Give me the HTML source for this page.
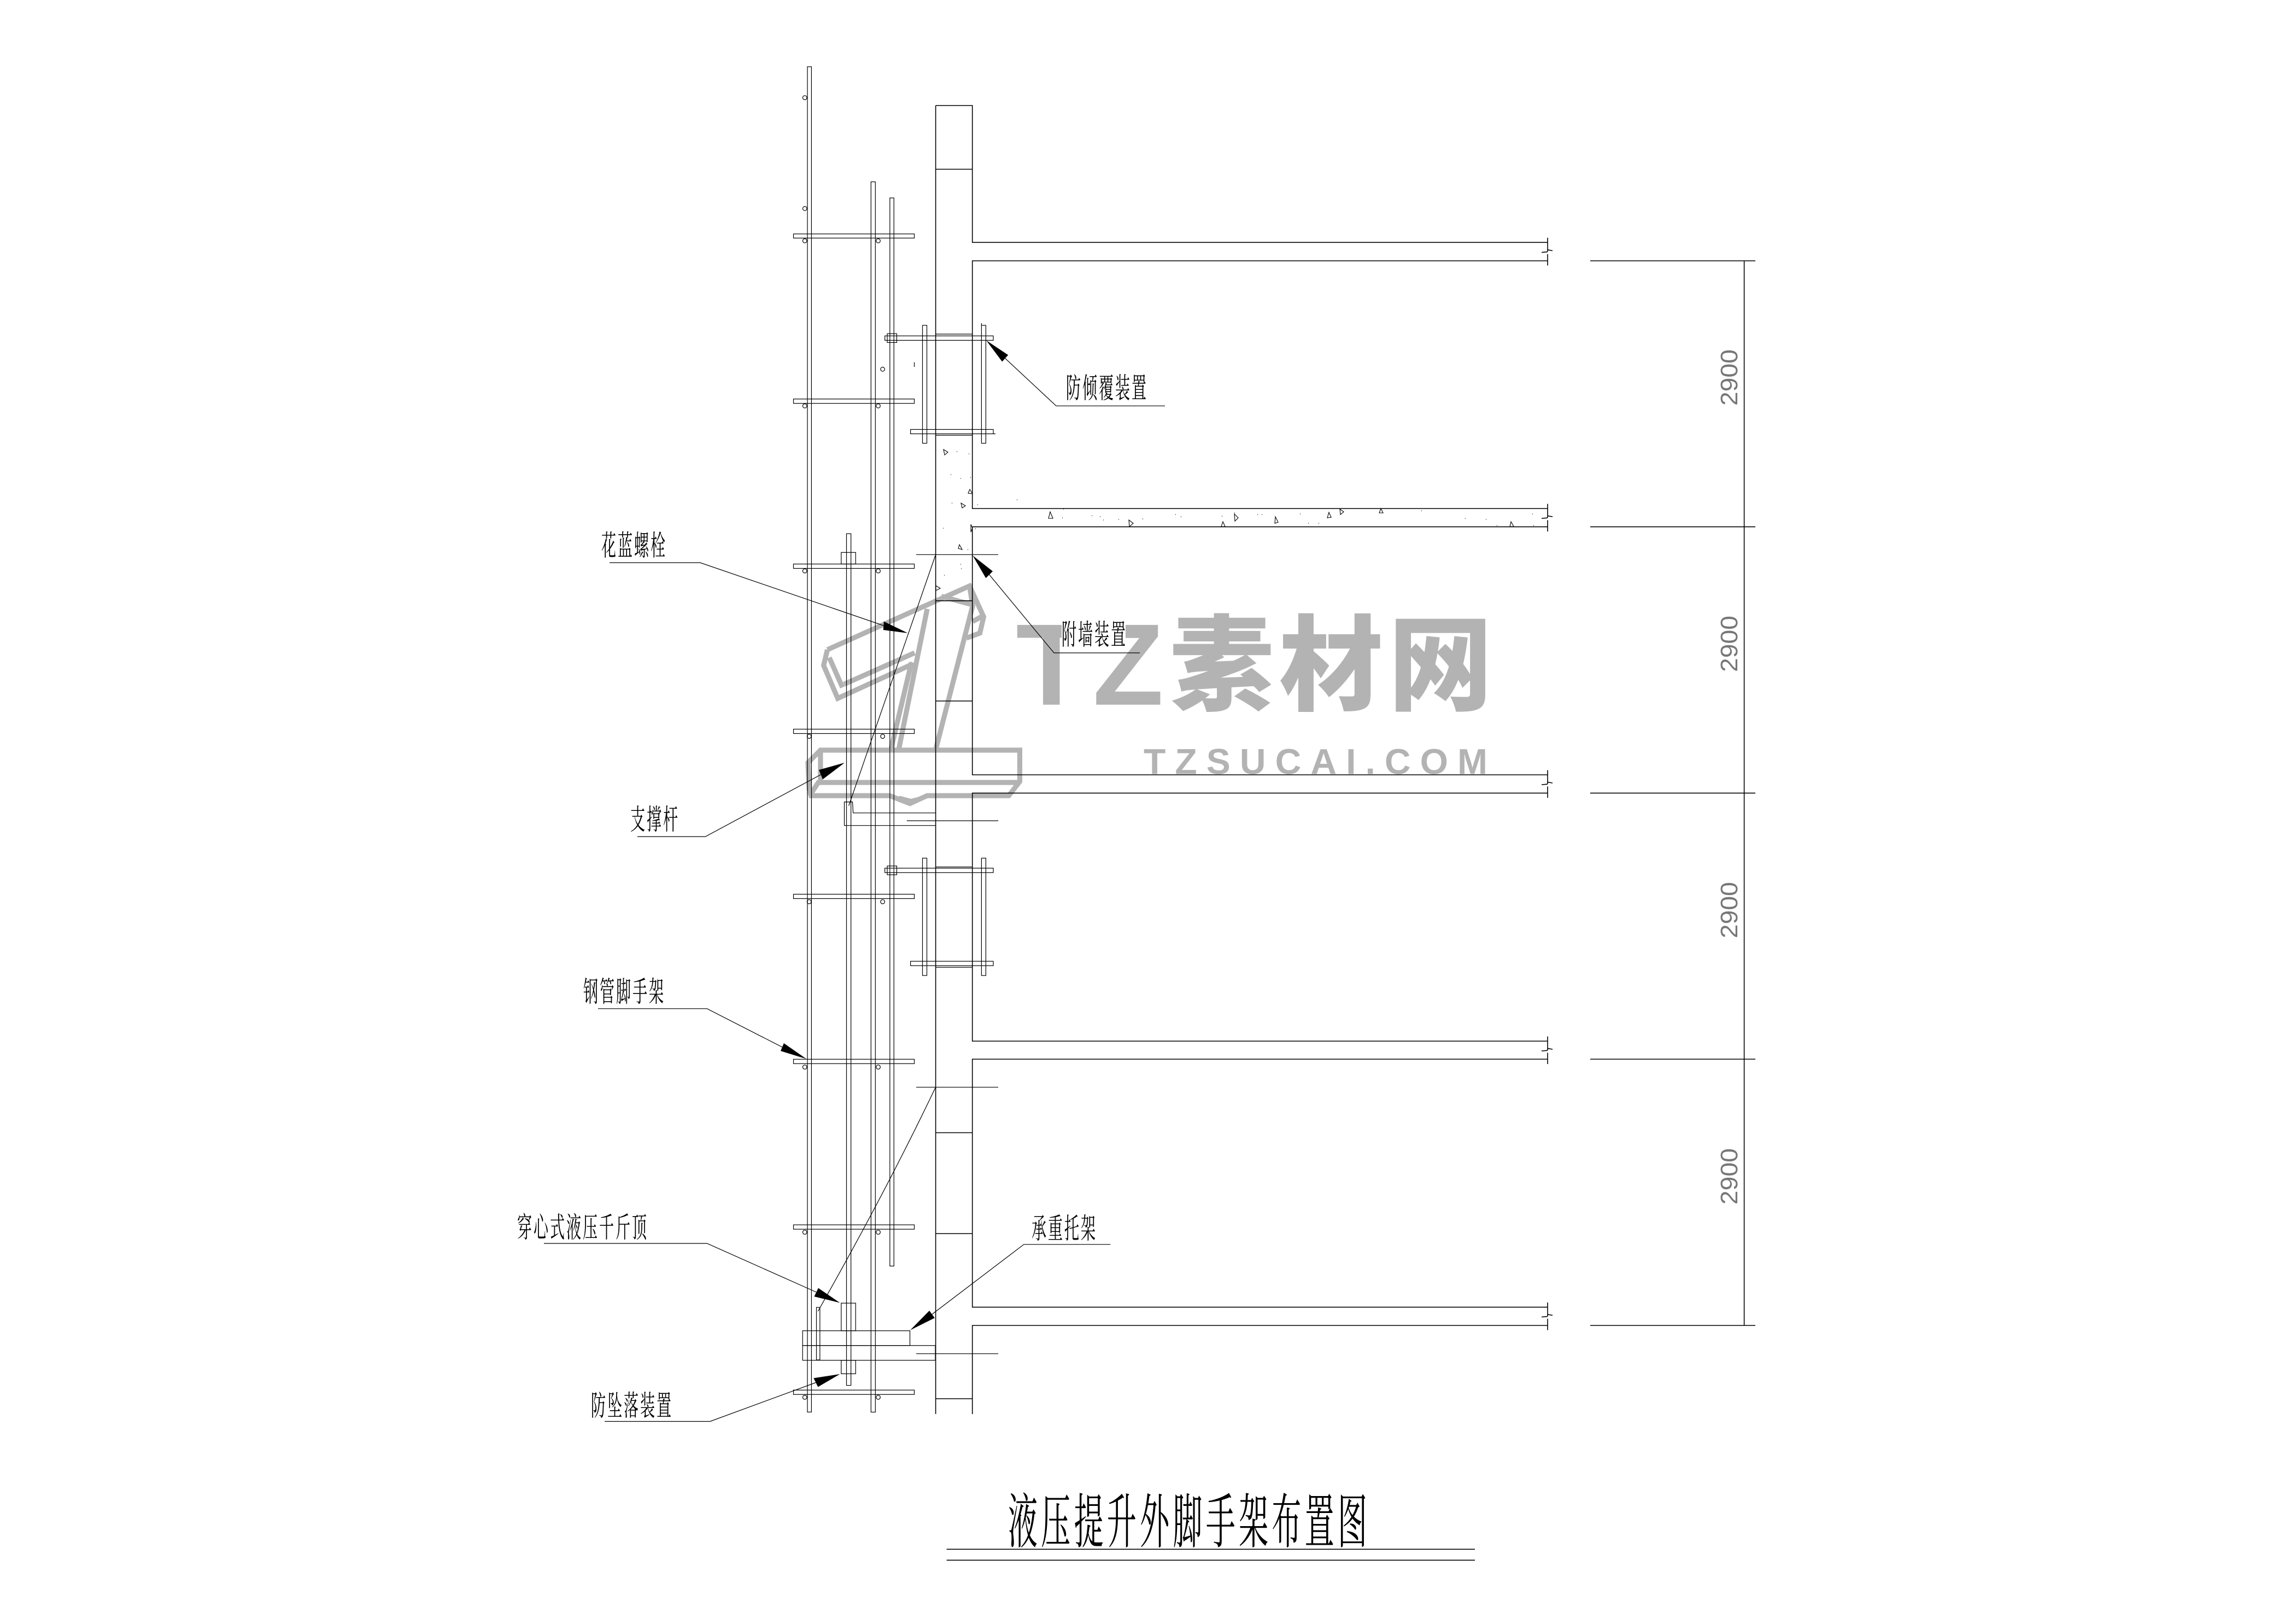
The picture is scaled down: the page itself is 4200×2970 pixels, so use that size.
<!DOCTYPE html>
<html lang="zh"><head><meta charset="utf-8"><title>液压提升外脚手架布置图</title>
<style>
html,body{margin:0;padding:0;background:#fff}
svg{display:block}
.cn{font-family:"Liberation Serif","Noto Serif CJK SC",serif;fill:#000;stroke:none}
</style></head><body>
<svg xmlns="http://www.w3.org/2000/svg" width="4200" height="2970" viewBox="0 0 4200 2970">
<rect width="4200" height="2970" fill="#fff"/>

<!-- watermark -->
<g fill="#b3b3b3">
<text x="1858.5" y="1288.7" font-family="Liberation Sans,sans-serif" font-weight="700" font-size="212">T</text>
<text x="1999" y="1288.7" font-family="Liberation Sans,sans-serif" font-weight="700" font-size="212">Z</text>
<text x="2140" y="1284" font-family="Liberation Sans,'Noto Sans CJK SC',sans-serif" font-weight="900" font-size="190" letter-spacing="10">素材网</text>
<text x="2092" y="1415.7" font-family="Liberation Sans,sans-serif" font-weight="700" font-size="66" textLength="629" lengthAdjust="spacing">TZSUCAI.COM</text>
</g>
<g transform="translate(1300,950) scale(.574)" fill="none" stroke="#b3b3b3" stroke-width="16" stroke-linejoin="miter">
<polyline points="372,415 360,465 405,570 645,460"/>
<polyline points="372,415 690,272 825,212 870,310 858,362 815,378"/>
<polyline points="378,440 420,535"/>
<polyline points="425,525 650,425"/>
<polyline points="690,285 600,730"/>
<polyline points="640,455 575,730"/>
<polyline points="735,245 835,272"/>
<polyline points="825,212 835,275 718,730"/>
<polyline points="835,325 870,306"/>
<polygon points="310,775 350,735 985,735 985,835 950,880 690,880 635,905 570,880 320,880 314,860"/>
<polyline points="350,735 350,835"/>
<polyline points="340,838 980,838"/>
<polyline points="345,835 322,870"/>
<polyline points="600,885 638,895 680,885" stroke-width="10"/>
</g>
<rect x="1942" y="1131" width="117" height="51" fill="#fff"/>

<g fill="none" stroke="#000" stroke-width="1.2">
<!-- wall -->
<g stroke-width="1.6">
<path d="M1711.6 193V2586"/>
<path d="M1711.6 193H1778.7V443.3H2831"/>
<path d="M2831 477H1778.7V930H2831"/>
<path d="M2831 963.4H1778.7V1417H2831"/>
<path d="M2831 1450.4H1778.7V1904H2831"/>
<path d="M2831 1937H1778.7V2390.6H2831"/>
<path d="M2831 2424H1778.7V2586"/>
<!-- wall joints -->
<path d="M1711.6 309.5H1778.7M1711.6 1098.7H1778.7M1711.6 1282H1778.7M1711.6 2071.5H1778.7M1711.6 2256H1778.7M1711.6 2558H1778.7"/>
<!-- break lines -->
<path d="M2831 434.8V458M2831 464.7V485.5M2820 461.6L2830 460.7L2832 457L2840 458.5"/>
<path d="M2831 921.5V944.5M2831 951.2V972M2820 948L2830 947.2L2832 943.5L2840 945"/>
<path d="M2831 1408.5V1431.5M2831 1438.2V1459M2820 1435L2830 1434.2L2832 1430.5L2840 1432"/>
<path d="M2831 1895.5V1918.5M2831 1925.2V1946M2820 1922L2830 1921.2L2832 1917.5L2840 1919"/>
<path d="M2831 2382V2405M2831 2411.7V2432.5M2820 2408.5L2830 2407.7L2832 2404L2840 2405.5"/>
<!-- dimensions -->
<path d="M2909 477H3211M2909 963.4H3211M2909 1450.4H3211M2909 1937H3211M2909 2424H3211M3190.6 477V2424"/>
<!-- title lines -->
<path d="M1731.6 2833.3H2698M1731.6 2853.3H2698"/>
</g>
<!-- standards -->
<rect x="1477" y="122" width="7.4" height="2460.4"/>
<rect x="1593.3" y="332.5" width="8" height="2250"/>
<rect x="1627.8" y="362" width="7.4" height="1953.4"/>
<rect x="1548.5" y="976" width="8.1" height="1557.6"/>
<!-- ledgers -->
<rect x="1451.5" y="427.8" width="221" height="7.6"/>
<rect x="1451.5" y="729.7" width="221" height="8"/>
<rect x="1451.5" y="1031.5" width="221" height="8"/>
<rect x="1451.5" y="1333.5" width="221" height="8"/>
<rect x="1451.5" y="1635.4" width="221" height="8"/>
<rect x="1451.5" y="1937.2" width="221" height="8"/>
<rect x="1451.5" y="2240" width="221" height="8"/>
<rect x="1451.5" y="2542.2" width="221" height="8"/>
<!-- couplers -->
<circle cx="1472.2" cy="178.6" r="3.8"/><circle cx="1472.2" cy="381.3" r="3.8"/>
<circle cx="1472.2" cy="440.4" r="3.8"/><circle cx="1606.5" cy="440.4" r="3.8"/>
<circle cx="1614.6" cy="675.2" r="3.8"/>
<circle cx="1472.2" cy="742.3" r="3.8"/><circle cx="1606.5" cy="742.3" r="3.8"/>
<circle cx="1472.2" cy="1044.1" r="3.8"/><circle cx="1606.5" cy="1044.1" r="3.8"/>
<circle cx="1480.2" cy="1346.6" r="3.8"/><circle cx="1614.6" cy="1346.6" r="3.8"/>
<circle cx="1480.2" cy="1649.1" r="3.8"/><circle cx="1614.6" cy="1649.1" r="3.8"/>
<circle cx="1472.2" cy="1951.5" r="3.8"/><circle cx="1606.5" cy="1951.5" r="3.8"/>
<circle cx="1472.2" cy="2253.5" r="3.8"/><circle cx="1606.5" cy="2253.5" r="3.8"/>
<circle cx="1472.2" cy="2555.4" r="3.8"/><circle cx="1606.5" cy="2555.4" r="3.8"/>
<!-- anti-tilt 1 -->
<rect x="1687.5" y="595" width="8" height="215.6"/>
<rect x="1795.4" y="595" width="8" height="215.6"/>
<rect x="1618.6" y="614.3" width="198.4" height="8.1"/>
<rect x="1623" y="610.3" width="17.4" height="16.1"/>
<rect x="1665.6" y="785.4" width="151.4" height="8"/>
<path d="M1817 793.4H1821M1711.6 611H1778.7M1711.6 796H1778.7M1672.5 662.5V671M1795.4 591V595"/>
<!-- anti-tilt 2 -->
<rect x="1687.5" y="1569.4" width="8" height="214.6"/>
<rect x="1795.4" y="1569.4" width="8" height="214.6"/>
<rect x="1618.6" y="1587.7" width="198.4" height="8.1"/>
<rect x="1623" y="1583.7" width="17.4" height="16.1"/>
<rect x="1665.6" y="1758" width="151.4" height="8"/>
<path d="M1711.6 1585.5H1778.7M1711.6 1769H1778.7"/>
<!-- upper jack block and bracket -->
<rect x="1538.8" y="1010.3" width="26.4" height="21.2"/>
<path d="M1711.6 1486.7H1560.6L1559.5 1466.6H1544.5V1509.7H1711.6"/>
<path d="M1676 1014.3H1826M1658.8 1501H1826M1676 1988.3H1826M1676 2475.7H1826"/>
<path d="M1711 1016L1552.6 1473.5"/>
<path d="M1711 1989.4Q1620 2180 1496.3 2398"/>
<!-- bottom bracket -->
<rect x="1468.2" y="2433.7" width="196.3" height="27"/>
<rect x="1468.2" y="2460.7" width="242.8" height="27"/>
<rect x="1493.5" y="2391" width="6.3" height="96"/>
<rect x="1538.8" y="2383.2" width="26.4" height="50.5"/>
<rect x="1538.8" y="2487.7" width="26.4" height="24.7"/>
<!-- leaders -->
<path d="M1838.7 655.3L1932 742.3H2131"/>
<path d="M1809.7 1051L1928 1194H2085"/>
<path d="M1115 1029H1280.8L1616 1144"/>
<path d="M1166 1530H1290.4L1501.5 1416.6"/>
<path d="M1094 1844.7H1293.4L1431 1915"/>
<path d="M995 2274H1293.4L1493 2363"/>
<path d="M1106 2599.5H1299L1492.3 2528.5"/>
<path d="M1704.9 2403.6L1872.9 2275.8H2031.3"/>
<!-- concrete triangles -->
<g stroke-width="1.1">
<path d="M1918 948L1921 936L1926 948Z"/><path d="M2065 951L2073 957L2066 963Z"/>
<path d="M2234 963L2237 954L2241 963Z"/><path d="M2258 940L2265 947L2259 953Z"/>
<path d="M2332 957L2333 945L2338 955Z"/><path d="M2428 947L2431 937L2435 946Z"/>
<path d="M2451 931L2458 936L2452 941Z"/><path d="M2523 938L2526 930L2530 938Z"/>
<path d="M2762 963L2764 954L2769 963Z"/>
<path d="M1726 822L1734 827L1728 832Z"/><path d="M1771 902L1774 895L1779 903Z"/>
<path d="M1758 920L1766 925L1760 929Z"/><path d="M1776 959L1779 966L1776 973Z"/>
<path d="M1753 1003L1755 996L1760 1005Z"/><path d="M1712 1071L1720 1076L1712 1080Z"/>
</g>
<path stroke-width="1.3" d="M1741 920h1M1788 923h1M1860 914h1M1945 931h1M1943 947h1M1997 943h1M2012 945h1M2018 951h1M2046 950h1M2090 949h1M2150 941h1M2160 945h1M2235 944h1M2258 938h1M2300 941h1M2308 941h1M2378 940h1M2393 957h1M2412 957h1M2600 934h1M2680 948h1M2718 950h1M2738 961h1M2803 940h1M2805 961h1M1750 826h1M1772 830h1M1739 868h1M1757 875h1M1775 873h1M1725 966h1M1770 1005h1M1757 1032h1M1758 1040h1M1727 1052h1M1784 967h1"/>
</g>

<!-- arrowheads -->
<g fill="#000" stroke="none">
<polygon points="1804,622.4 1844.2,649.3 1833.2,661.4"/>
<polygon points="1779.3,1016 1816,1044.7 1803.4,1057.3"/>
<polygon points="1660.5,1157.8 1616.8,1136.5 1615.7,1152"/>
<polygon points="1545,1394.9 1498,1408 1505,1425.3"/>
<polygon points="1475.2,1936.6 1433.9,1907.9 1428,1922"/>
<polygon points="1536.5,2382.6 1496.9,2355.6 1489.4,2371.1"/>
<polygon points="1536.5,2513 1488.3,2520.4 1496.3,2536.5"/>
<polygon points="1665,2432.6 1700,2397 1709.8,2410.2"/>
</g>

<!-- labels -->
<g class="cn" font-size="52" letter-spacing="5.7">
<text transform="translate(1950,728) scale(.52,1)">防倾覆装置</text>
<text transform="translate(1942,1179) scale(.52,1)">附墙装置</text>
<text transform="translate(1100,1016) scale(.52,1)">花蓝螺栓</text>
<text transform="translate(1153,1517) scale(.52,1)">支撑杆</text>
<text transform="translate(1067,1832) scale(.52,1)">钢管脚手架</text>
<text transform="translate(946,2263) scale(.52,1)">穿心式液压千斤顶</text>
<text transform="translate(1081,2589) scale(.52,1)">防坠落装置</text>
<text transform="translate(1887,2265) scale(.52,1)">承重托架</text>
</g>
<text class="cn" font-size="108" letter-spacing="12.6" transform="translate(1844,2821) scale(.5,1)">液压提升外脚手架布置图</text>

<!-- dimension text -->
<g font-family="Liberation Sans,sans-serif" font-size="44" fill="#777">
<text transform="translate(3178,742) rotate(-90)" textLength="103" lengthAdjust="spacingAndGlyphs">2900</text>
<text transform="translate(3178,1229) rotate(-90)" textLength="103" lengthAdjust="spacingAndGlyphs">2900</text>
<text transform="translate(3178,1716) rotate(-90)" textLength="103" lengthAdjust="spacingAndGlyphs">2900</text>
<text transform="translate(3178,2203) rotate(-90)" textLength="103" lengthAdjust="spacingAndGlyphs">2900</text>
</g>
</svg>
</body></html>
